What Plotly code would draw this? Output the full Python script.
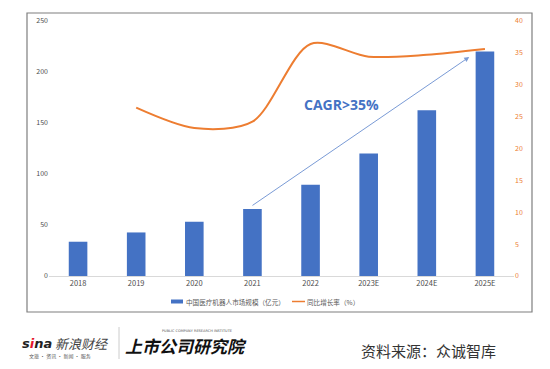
import plotly.graph_objects as go

years = ["2018", "2019", "2020", "2021", "2022", "2023E", "2024E", "2025E"]
market_size = [33.6, 42.7, 53.2, 65.7, 89.5, 120.2, 162.4, 220.2]
growth_rate = [None, 26.4, 23.2, 24.2, 36.4, 34.4, 34.7, 35.6]

left_ticks = [0, 50, 100, 150, 200, 250]
right_ticks = [0, 5, 10, 15, 20, 25, 30, 35, 40]

bar_name = "中国医疗机器人市场规模（亿元）"
line_name = "同比增长率（%）"

BLUE = "#4472C4"
ORANGE = "#ED7D31"
FONT = "Noto Sans CJK SC, Noto Sans, sans-serif"

fig = go.Figure()
fig.add_trace(go.Bar(x=years, y=market_size, name=bar_name, marker_color=BLUE,
                     marker_line_width=0, yaxis="y"))
fig.add_trace(go.Scatter(x=years, y=growth_rate, name=line_name, mode="lines",
                         line=dict(color=ORANGE, width=2, shape="spline", smoothing=0.85),
                         yaxis="y2", connectgaps=False))

fig.update_layout(
    width=550, height=369,
    margin=dict(l=49, r=36, t=21, b=93, autoexpand=False),
    paper_bgcolor="white", plot_bgcolor="white",
    font=dict(family=FONT, size=7, color="#595959"),
    bargap=0.68,
    showlegend=False,
    xaxis=dict(type="category", showgrid=False, showline=True, linecolor="#d9d9d9",
               linewidth=1, ticks="", tickfont=dict(size=7.5, color="#4d4d4d"),
               zeroline=False),
    yaxis=dict(range=[0, 250], tickvals=left_ticks, showgrid=False, zeroline=False,
               showline=False, ticks="", tickfont=dict(size=7, color="#4d4d4d")),
    yaxis2=dict(range=[0, 40], tickvals=right_ticks, overlaying="y", side="right",
                showgrid=False, zeroline=False, showline=False, ticks="",
                tickfont=dict(size=7, color=ORANGE)),
)

def px(xp):
    return (xp - 49) / 465

def py(yp):
    return (276 - yp) / 255

# Arrow and CAGR label
fig.add_annotation(x=6.73, y=214.7, ax=2.975, ay=68.2, xref="x", yref="y",
                   axref="x", ayref="y", showarrow=True, arrowhead=2, arrowsize=1,
                   arrowwidth=1, arrowcolor="#7a9bd6", text="")
fig.add_annotation(x=4.536, y=168, xref="x", yref="y", text="<b>CAGR>35%</b>",
                   showarrow=False, font=dict(size=14, color=BLUE, family="Open Sans, sans-serif"))

# Frame around chart
fig.add_shape(type="rect", xref="paper", yref="paper",
              x0=px(27), x1=px(532), y0=py(312), y1=py(13),
              line=dict(color="#7f7f7f", width=1.2), layer="below")

# Legend (drawn manually to match the compact swatches)
fig.add_shape(type="rect", xref="paper", yref="paper", x0=px(171), x1=px(183),
              y0=py(303.5), y1=py(299.5), fillcolor=BLUE, line_width=0)
fig.add_annotation(x=px(185), y=py(301.5), xref="paper", yref="paper", xanchor="left",
                   yanchor="middle", text=bar_name, showarrow=False, borderpad=0,
                   font=dict(size=6.6, color="#595959", family=FONT))
fig.add_shape(type="line", xref="paper", yref="paper", x0=px(292), x1=px(305),
              y0=py(301.5), y1=py(301.5), line=dict(color=ORANGE, width=1.5))
fig.add_annotation(x=px(306), y=py(301.5), xref="paper", yref="paper", xanchor="left",
                   yanchor="middle", text=line_name, showarrow=False, borderpad=0,
                   font=dict(size=6.6, color="#595959", family=FONT))

# Source text
fig.add_annotation(x=px(498), y=py(350), xref="paper", yref="paper", xanchor="right",
                   yanchor="middle", text="资料来源：众诚智库", showarrow=False,
                   font=dict(size=15, color="#333333", family=FONT))

# Sina logo text
fig.add_annotation(x=px(20), y=py(343), xref="paper", yref="paper", xanchor="left",
                   yanchor="middle", text="<b><i>s<span style='color:#E6162D'>i</span>na</i></b>",
                   showarrow=False, font=dict(size=13, color="#222222", family="DejaVu Sans"))
fig.add_annotation(x=px(53), y=py(343), xref="paper", yref="paper", xanchor="left",
                   yanchor="middle", text="<i>新浪财经</i>", showarrow=False,
                   font=dict(size=13, color="#444444", family=FONT))
fig.add_annotation(x=px(27), y=py(356), xref="paper", yref="paper", xanchor="left",
                   yanchor="middle", text="文旅 · 资讯 · 新闻 · 服务", showarrow=False,
                   font=dict(size=5, color="#555555", family=FONT))
fig.add_shape(type="line", xref="paper", yref="paper", x0=px(119), x1=px(119),
              y0=py(327), y1=py(359), line=dict(color="#cccccc", width=1))
fig.add_annotation(x=px(123), y=py(345), xref="paper", yref="paper", xanchor="left",
                   yanchor="middle", text="<b><i>上市公司研究院</i></b>", showarrow=False,
                   font=dict(size=17, color="#111111", family=FONT))
fig.add_annotation(x=px(160), y=py(331), xref="paper", yref="paper", xanchor="left",
                   yanchor="middle", text="PUBLIC COMPANY RESEARCH INSTITUTE", showarrow=False,
                   font=dict(size=3.5, color="#555555", family="DejaVu Sans"))

fig.write_html("out.html", config={"displayModeBar": False},
               post_script="document.body.style.margin='0';")
